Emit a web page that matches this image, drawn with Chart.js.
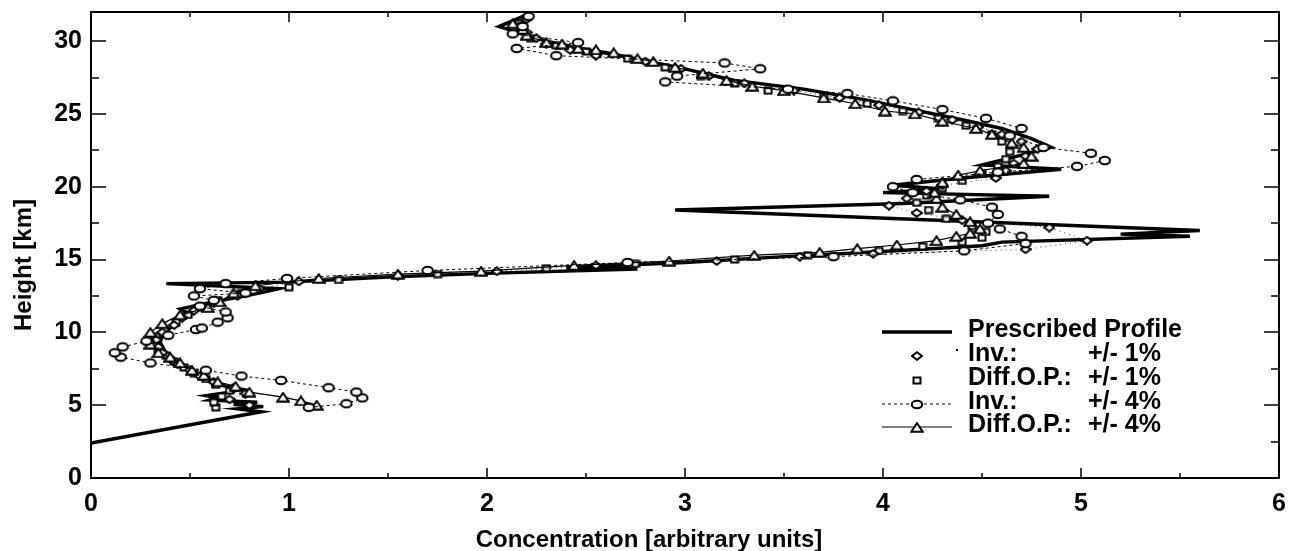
<!DOCTYPE html>
<html>
<head>
<meta charset="utf-8">
<script src="https://cdn.jsdelivr.net/npm/chart.js@4.4.1/dist/chart.umd.min.js"></script>
<style>
    html, body { margin: 0; padding: 0; background: #fff; }
    canvas { display: block; }
</style>
</head>
<body>
<canvas id="grafica" width="1298" height="551"></canvas>
<script>
// ejes
const xTicks = [0, 1, 2, 3, 4, 5, 6];
const xMinorTicks = [0.5, 1.5, 2.5, 3.5, 4.5, 5.5];
const yTicks = [0, 5, 10, 15, 20, 25, 30];
const yMinorTicks = [2.5, 7.5, 12.5, 17.5, 22.5, 27.5];

// Prescribed Profile
const profileHeight = [2.4, 4.55, 4.75, 4.9, 5.05, 5.2, 5.35, 5.5, 5.65, 5.9, 6.1, 6.3, 6.6, 7.0, 7.4, 7.8, 8.3, 8.8, 9.3, 9.8,
    10.3, 10.8, 11.2, 11.6, 11.9, 12.3, 12.7, 13.0, 13.35, 13.45, 13.8, 14.05, 14.35, 14.45, 14.8, 15.2, 15.55, 15.95, 16.2, 16.6,
    16.75, 17.0, 18.4, 18.85, 19.35, 19.6, 19.85, 20.1, 20.6, 21.2, 21.5, 22.0, 22.7, 23.3, 24.0, 24.6, 25.3, 26.0, 26.7, 27.3,
    28.1, 28.8, 29.3, 30.0, 31.0, 31.8];
const profileConc = [0, 0.86, 0.74, 0.87, 0.72, 0.84, 0.6, 0.64, 0.58, 0.7, 0.76, 0.68, 0.6, 0.55, 0.5, 0.45, 0.4, 0.37, 0.35, 0.36,
    0.4, 0.44, 0.5, 0.45, 0.55, 0.7, 0.85, 0.95, 0.38, 1.0, 1.5, 2.0, 2.76, 2.4, 3.0, 3.5, 4.0, 4.5, 4.6, 5.55,
    5.2, 5.6, 2.95, 4.1, 4.84, 4.0, 4.3, 4.05, 4.4, 4.9, 4.5, 4.65, 4.85, 4.75, 4.6, 4.4, 4.15, 3.9, 3.6, 3.25,
    3.0, 2.75, 2.55, 2.3, 2.06, 2.2];

// Inv. +/- 1% (rombos)
const invOneHeight = [5.0, 5.4, 5.8, 6.2, 6.6, 7.0, 7.4, 7.8, 8.2, 8.6, 9.0, 9.5, 10.0, 10.5, 11.0, 11.5, 12.0, 12.5, 13.0, 13.5,
    13.9, 14.2, 14.6, 14.9, 15.2, 15.4, 15.7, 16.3, 17.2, 17.7, 18.2, 18.7, 19.2, 19.7, 20.1, 20.6, 21.1, 21.6, 22.1, 22.6,
    23.1, 23.6, 24.1, 24.6, 25.1, 25.6, 26.1, 26.6, 27.1, 27.6, 28.1, 28.6, 29.0, 29.4, 29.8, 30.2, 30.6, 31.0, 31.5];
const invOneConc = [0.80, 0.70, 0.78, 0.72, 0.62, 0.55, 0.50, 0.44, 0.40, 0.36, 0.34, 0.33, 0.36, 0.42, 0.46, 0.52, 0.62, 0.74, 0.85, 1.05,
    1.55, 2.05, 2.55, 3.16, 3.58, 3.95, 4.72, 5.03, 4.84, 4.40, 4.17, 4.03, 4.12, 4.22, 4.30, 4.57, 4.62, 4.66, 4.72, 4.78,
    4.70, 4.60, 4.48, 4.35, 4.18, 3.98, 3.78, 3.55, 3.30, 3.12, 2.98, 2.80, 2.55, 2.42, 2.30, 2.25, 2.20, 2.16, 2.20];

// Diff.O.P. +/- 1% (cuadrados)
const diffOneHeight = [4.85, 5.2, 5.6, 6.0, 6.4, 6.8, 7.2, 7.6, 8.0, 8.4, 8.8, 9.2, 9.7, 10.2, 10.7, 11.2, 11.7, 12.2, 12.7, 13.1,
    13.6, 14.0, 14.4, 14.7, 15.0, 15.3, 15.6, 15.9, 16.2, 16.5, 16.9, 17.3, 17.8, 18.4, 18.9, 19.4, 19.9, 20.4, 20.9, 21.4,
    21.9, 22.4, 23.1, 23.6, 24.2, 24.7, 25.2, 25.7, 26.2, 26.6, 27.1, 27.6, 28.2, 28.8, 29.3, 29.7, 30.2, 30.7, 31.2];
const diffOneConc = [0.63, 0.62, 0.66, 0.70, 0.63, 0.58, 0.52, 0.47, 0.42, 0.38, 0.34, 0.32, 0.33, 0.37, 0.43, 0.49, 0.56, 0.64, 0.76, 1.00,
    1.25, 1.75, 2.30, 2.75, 3.25, 3.62, 3.98, 4.20, 4.40, 4.50, 4.52, 4.45, 4.32, 4.23, 4.17, 4.22, 4.30, 4.40, 4.50, 4.58,
    4.62, 4.64, 4.60, 4.55, 4.42, 4.28, 4.10, 3.92, 3.70, 3.42, 3.25, 3.08, 2.90, 2.71, 2.50, 2.35, 2.22, 2.17, 2.16];

// Inv. +/- 4% (circulos)
const invFourHeight = [4.85, 5.1, 5.5, 5.9, 6.2, 6.7, 7.0, 7.4, 7.9, 8.3, 8.6, 9.0, 9.4, 9.8, 10.2, 10.3, 10.7, 11.0, 11.4, 11.8,
    12.2, 12.5, 12.7, 13.0, 13.35, 13.7, 14.25, 14.8, 15.2, 15.6, 16.1, 16.6, 17.1, 17.5, 18.1, 18.6, 19.1, 19.6, 20.0, 20.5,
    21.0, 21.4, 21.8, 22.3, 22.7, 23.5, 24.0, 24.7, 25.3, 25.9, 26.4, 26.7, 27.2, 27.6, 28.1, 28.5, 29.0, 29.5, 29.9, 30.5,
    31.0, 31.7];
const invFourConc = [1.10, 1.29, 1.37, 1.34, 1.20, 0.96, 0.76, 0.58, 0.30, 0.15, 0.12, 0.16, 0.28, 0.39, 0.53, 0.56, 0.64, 0.69, 0.68, 0.55,
    0.62, 0.52, 0.78, 0.55, 0.68, 0.99, 1.70, 2.71, 3.75, 4.41, 4.72, 4.70, 4.59, 4.53, 4.58, 4.55, 4.39, 4.15, 4.05, 4.17,
    4.58, 4.98, 5.12, 5.05, 4.81, 4.64, 4.70, 4.52, 4.30, 4.05, 3.82, 3.52, 2.90, 2.96, 3.38, 3.20, 2.35, 2.15, 2.46, 2.13,
    2.18, 2.21];

// Diff.O.P. +/- 4% (triangulos)
const diffFourHeight = [5.0, 5.3, 5.55, 5.9, 6.3, 6.6, 7.05, 7.4, 7.9, 8.3, 8.6, 9.2, 9.6, 10.0, 10.6, 11.2, 11.7, 12.1, 12.7, 13.2,
    13.7, 14.0, 14.2, 14.6, 14.9, 15.3, 15.5, 15.75, 16.0, 16.3, 16.6, 16.8, 17.1, 17.6, 18.1, 18.6, 19.2, 19.6, 20.3, 20.8,
    21.1, 21.6, 22.1, 22.7, 23.0, 23.6, 24.0, 24.5, 25.0, 25.2, 25.7, 26.1, 26.6, 26.9, 27.3, 27.8, 28.2, 28.6, 28.8, 29.2,
    29.4, 29.5, 29.8, 29.9, 30.4, 30.8, 31.2];
const diffFourConc = [1.14, 1.06, 0.97, 0.80, 0.73, 0.64, 0.57, 0.51, 0.45, 0.40, 0.34, 0.30, 0.29, 0.30, 0.36, 0.45, 0.59, 0.65, 0.72, 0.83,
    1.15, 1.55, 1.97, 2.44, 2.92, 3.35, 3.68, 3.87, 4.07, 4.27, 4.37, 4.44, 4.49, 4.44, 4.37, 4.30, 4.27, 4.26, 4.30, 4.38,
    4.49, 4.71, 4.75, 4.71, 4.65, 4.55, 4.47, 4.30, 4.16, 4.01, 3.86, 3.70, 3.50, 3.34, 3.21, 3.09, 2.95, 2.84, 2.76, 2.64,
    2.55, 2.46, 2.38, 2.30, 2.20, 2.18, 2.13];

const legendText = [
    ['Prescribed Profile', ''],
    ['Inv.:', '+/- 1%'],
    ['Diff.O.P.:', '+/- 1%'],
    ['Inv.:', '+/- 4%'],
    ['Diff.O.P.:', '+/- 4%']
];

const fuente = '"Liberation Sans", Arial, Helvetica, sans-serif';

function puntos(conc, alt) {
    return conc.map((c, i) => ({ x: c, y: alt[i] }));
}

// marcadores huecos, algo mas anchos que altos como en el original
function crearMarcador(tipo) {
    const c = document.createElement('canvas');
    const dims = { circulo: [14, 11], triangulo: [14, 11], rombo: [12, 10], cuadrado: [10, 9] }[tipo];
    c.width = dims[0];
    c.height = dims[1];
    const g = c.getContext('2d');
    g.fillStyle = '#fff';
    g.strokeStyle = '#000';
    g.lineWidth = 2;
    g.beginPath();
    if (tipo === 'circulo') {
        g.ellipse(7, 5.5, 5.2, 3.8, 0, 0, Math.PI * 2);
    } else if (tipo === 'triangulo') {
        g.moveTo(7, 1.3); g.lineTo(12.7, 9.7); g.lineTo(1.3, 9.7); g.closePath();
    } else if (tipo === 'rombo') {
        g.moveTo(6, 1.2); g.lineTo(11, 5); g.lineTo(6, 8.8); g.lineTo(1, 5); g.closePath();
    } else {
        g.rect(1.5, 1.5, 7, 6);
    }
    g.fill();
    g.stroke();
    return c;
}

const mCirculo = crearMarcador('circulo');
const mTriangulo = crearMarcador('triangulo');
const mRombo = crearMarcador('rombo');
const mCuadrado = crearMarcador('cuadrado');

const marcoPlugin = {
    id: 'marco',
    afterDatasetsDraw(chart) {
        const { ctx, chartArea: a, scales } = chart;
        const x = scales.x, y = scales.y;
        ctx.save();
        ctx.strokeStyle = '#000';
        ctx.lineWidth = 2;
        ctx.strokeRect(a.left, a.top, a.right - a.left, a.bottom - a.top);
        ctx.lineWidth = 1.5;
        ctx.beginPath();
        const marcaX = (v, l) => {
            const p = Math.round(x.getPixelForValue(v));
            ctx.moveTo(p, a.bottom); ctx.lineTo(p, a.bottom - l);
            ctx.moveTo(p, a.top); ctx.lineTo(p, a.top + l);
        };
        const marcaY = (v, l) => {
            const p = Math.round(y.getPixelForValue(v));
            ctx.moveTo(a.left, p); ctx.lineTo(a.left + l, p);
            ctx.moveTo(a.right, p); ctx.lineTo(a.right - l, p);
        };
        xTicks.forEach(v => marcaX(v, 10));
        xMinorTicks.forEach(v => marcaX(v, 5));
        yTicks.forEach(v => marcaY(v, 15));
        yMinorTicks.forEach(v => marcaY(v, 8));
        ctx.stroke();
        ctx.restore();
    },
    afterDraw(chart) {
        const ctx = chart.ctx;
        ctx.save();
        ctx.fillStyle = '#000';
        ctx.font = 'bold 24px ' + fuente;
        ctx.textAlign = 'center';
        ctx.textBaseline = 'alphabetic';
        ctx.fillText('Concentration [arbitrary units]', 649, 547);
        ctx.translate(31, 265);
        ctx.rotate(-Math.PI / 2);
        ctx.fillText('Height [km]', 0, 0);
        ctx.restore();

        // leyenda dentro del area
        const filas = [330, 354, 378, 402, 425];
        const x0 = 882, x1 = 952, xm = 917, xt = 968, xt2 = 1088;
        ctx.save();
        ctx.fillStyle = '#000';
        ctx.strokeStyle = '#000';
        ctx.font = 'bold 25px ' + fuente;
        ctx.textBaseline = 'middle';
        ctx.textAlign = 'left';
        chart.data.datasets.forEach((ds, i) => {
            const yy = filas[i];
            if (ds.showLine) {
                ctx.save();
                ctx.lineWidth = i === 0 ? ds.borderWidth : 1;
                ctx.setLineDash(ds.borderDash || []);
                if (i !== 1) {
                    ctx.beginPath();
                    ctx.moveTo(x0, yy + 2);
                    ctx.lineTo(x1, yy + 2);
                    ctx.stroke();
                }
                ctx.restore();
            }
            if (i === 1) {
                ctx.fillRect(956, yy - 5, 2, 2);
            }
            if (typeof ds.pointStyle === 'object') {
                const m = ds.pointStyle;
                ctx.drawImage(m, Math.round(xm - m.width / 2), Math.round(yy + 2 - m.height / 2));
            }
            ctx.fillText(legendText[i][0], xt, yy);
            if (legendText[i][1]) ctx.fillText(legendText[i][1], xt2, yy);
        });
        ctx.restore();
    }
};

const ctx = document.getElementById('grafica').getContext('2d');

new Chart(ctx, {
    type: 'scatter',
    data: {
        datasets: [
            {
                label: 'Prescribed Profile',
                data: puntos(profileConc, profileHeight),
                showLine: true,
                borderColor: '#000',
                borderWidth: 3.4,
                pointRadius: 0,
                order: 5
            },
            {
                label: 'Inv.: +/- 1%',
                data: puntos(invOneConc, invOneHeight),
                showLine: true,
                borderColor: '#333',
                borderWidth: 0.9,
                borderDash: [1, 4],
                pointStyle: mRombo,
                pointRadius: 4,
                order: 3
            },
            {
                label: 'Diff.O.P.: +/- 1%',
                data: puntos(diffOneConc, diffOneHeight),
                showLine: false,
                borderColor: '#000',
                pointStyle: mCuadrado,
                pointRadius: 4,
                order: 4
            },
            {
                label: 'Inv.: +/- 4%',
                data: puntos(invFourConc, invFourHeight),
                showLine: true,
                borderColor: '#000',
                borderWidth: 1,
                borderDash: [3, 3],
                pointStyle: mCirculo,
                pointRadius: 4,
                order: 1
            },
            {
                label: 'Diff.O.P.: +/- 4%',
                data: puntos(diffFourConc, diffFourHeight),
                showLine: true,
                borderColor: '#000',
                borderWidth: 1.2,
                pointStyle: mTriangulo,
                pointRadius: 4,
                order: 2
            }
        ]
    },
    options: {
        responsive: false,
        animation: false,
        devicePixelRatio: 1,
        layout: { padding: { left: 0, top: 12, right: 19, bottom: 0 } },
        plugins: {
            legend: { display: false },
            tooltip: { enabled: false }
        },
        scales: {
            x: {
                type: 'linear',
                min: 0,
                max: 6,
                grid: { display: false, drawTicks: false },
                border: { display: false },
                afterBuildTicks: s => { s.ticks = xTicks.map(v => ({ value: v })); },
                afterFit: s => { s.height = 73; s.paddingLeft = 0; s.paddingRight = 0; },
                ticks: {
                    padding: 11,
                    color: '#000',
                    maxRotation: 0,
                    font: { family: fuente, size: 25, weight: 'bold' }
                }
            },
            y: {
                type: 'linear',
                min: 0,
                max: 32,
                grid: { display: false, drawTicks: false },
                border: { display: false },
                afterBuildTicks: s => { s.ticks = yTicks.map(v => ({ value: v })); },
                afterFit: s => { s.width = 91; s.paddingTop = 0; s.paddingBottom = 0; },
                ticks: {
                    padding: 9,
                    color: '#000',
                    font: { family: fuente, size: 25, weight: 'bold' }
                }
            }
        }
    },
    plugins: [marcoPlugin]
});
</script>
</body>
</html>
